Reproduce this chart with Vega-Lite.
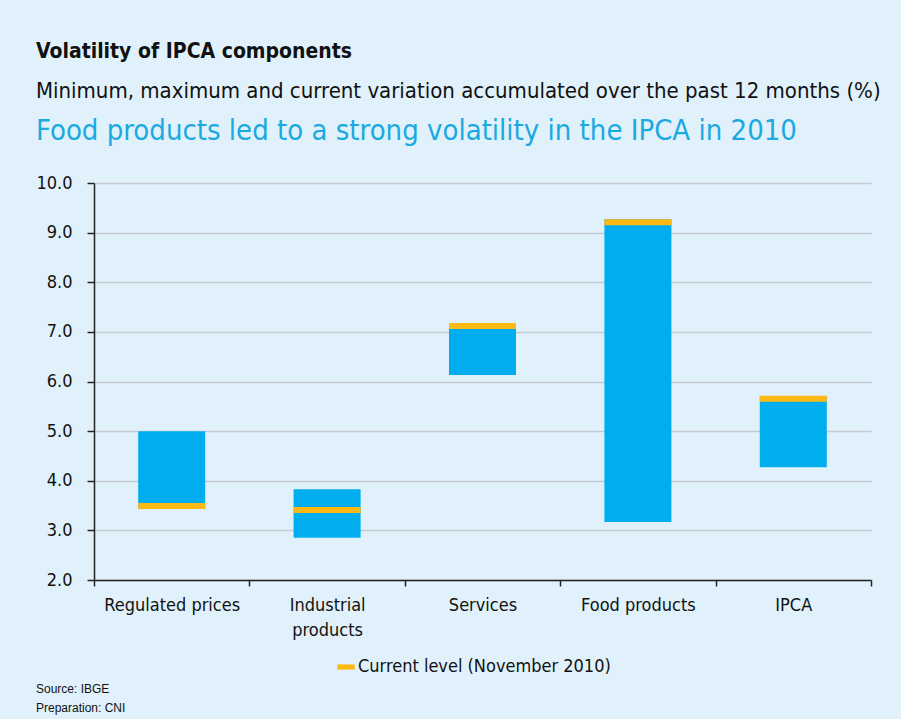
{
  "$schema": "https://vega.github.io/schema/vega-lite/v6.json",
  "background": "#e0f1fb",
  "padding": {"left": 35, "top": 41, "right": 20, "bottom": 5},
  "title": {
    "text": ["Source: IBGE", "Preparation: CNI"],
    "orient": "bottom",
    "anchor": "start",
    "font": "Liberation Sans",
    "fontSize": 12,
    "fontWeight": "normal",
    "color": "#111111",
    "lineHeight": 19,
    "offset": 8
  },
  "vconcat": [
    {
      "title": {
        "text": "Volatility of IPCA components",
        "subtitle": "Minimum, maximum and current variation accumulated over the past 12 months (%)",
        "anchor": "start",
        "font": "DejaVu Sans Condensed",
        "fontSize": 21,
        "fontWeight": "bold",
        "color": "#111111",
        "subtitleFont": "DejaVu Sans Condensed",
        "subtitleFontSize": 22,
        "subtitleColor": "#111111",
        "subtitlePadding": 19,
        "offset": 15
      },
      "vconcat": [
        {
          "title": {
            "text": "Food products led to a strong volatility in the IPCA in 2010",
            "anchor": "start",
            "font": "DejaVu Sans Condensed",
            "fontSize": 29,
            "fontWeight": "normal",
            "color": "#1ba9e1",
            "offset": 28
          },
          "width": 777,
          "height": 397,
          "data": {
            "values": [
              {"component": "Regulated prices", "min": 3.43, "max": 5.0, "current": 3.49},
              {"component": "Industrial products", "min": 2.85, "max": 3.83, "current": 3.41},
              {"component": "Services", "min": 6.13, "max": 7.18, "current": 7.12},
              {"component": "Food products", "min": 3.17, "max": 9.27, "current": 9.21},
              {"component": "IPCA", "min": 4.27, "max": 5.71, "current": 5.65}
            ]
          },
          "encoding": {
            "x": {
              "field": "component",
              "type": "nominal",
              "sort": null,
              "scale": {"paddingInner": 0, "paddingOuter": 0},
              "axis": {
                "title": null,
                "labelAngle": 0,
                "tickBand": "extent",
                "labelExpr": "datum.value == 'Industrial products' ? ['Industrial', 'products'] : datum.value",
                "labelPadding": 10,
                "tickSize": 6,
                "labelLineHeight": 25
              }
            }
          },
          "layer": [
            {
              "mark": {"type": "bar", "color": "#00aeef", "size": 67, "opacity": 1},
              "encoding": {
                "y": {
                  "field": "min",
                  "type": "quantitative",
                  "scale": {"domain": [2, 10], "nice": false, "zero": false},
                  "axis": {"title": null, "format": ".1f", "values": [2, 3, 4, 5, 6, 7, 8, 9, 10], "labelOverlap": false}
                },
                "y2": {"field": "max"}
              }
            },
            {
              "mark": {"type": "tick", "thickness": 6, "size": 67, "opacity": 1},
              "encoding": {
                "y": {
                  "field": "current",
                  "type": "quantitative",
                  "scale": {"domain": [2, 10], "nice": false, "zero": false},
                  "axis": {"title": null, "format": ".1f", "values": [2, 3, 4, 5, 6, 7, 8, 9, 10], "labelOverlap": false}
                },
                "color": {
                  "datum": "Current level (November 2010)",
                  "type": "nominal",
                  "scale": {"range": ["#fdb913"]},
                  "legend": {
                    "title": null,
                    "orient": "none",
                    "legendX": 243,
                    "legendY": 475,
                    "symbolType": "M-1,-0.3H1V0.3H-1Z",
                    "symbolSize": 300,
                    "symbolStrokeWidth": 0,
                    "labelFontSize": 18,
                    "labelFont": "DejaVu Sans Condensed",
                    "labelColor": "#111111",
                    "labelOffset": 3,
                    "labelLimit": 0
                  }
                }
              }
            }
          ]
        }
      ]
    }
  ],
  "config": {
    "view": {"stroke": null},
    "font": "DejaVu Sans Condensed",
    "axis": {
      "labelFont": "DejaVu Sans Condensed",
      "labelFontSize": 18,
      "labelColor": "#111111",
      "domainColor": "#222222",
      "domainWidth": 1.5,
      "tickColor": "#222222",
      "tickWidth": 1.5,
      "gridColor": "#c5cbd0",
      "gridWidth": 1.5
    },
    "axisX": {"grid": false},
    "axisY": {"tickSize": 7, "labelPadding": 15, "domain": true}
  }
}
